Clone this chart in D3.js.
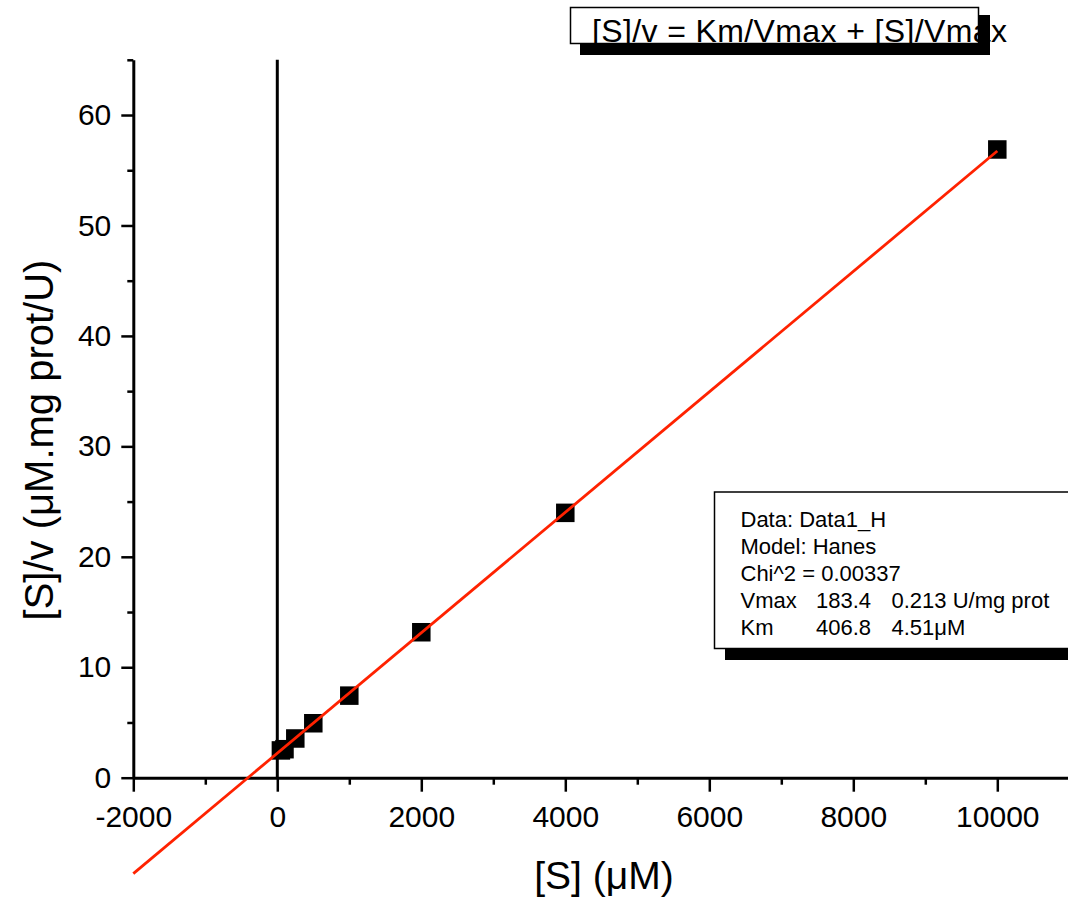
<!DOCTYPE html>
<html>
<head>
<meta charset="utf-8">
<script src="https://cdn.jsdelivr.net/npm/d3@7"></script>
<style>
  html, body { margin: 0; padding: 0; background: #fff; }
  svg { display: block; font-family: "Liberation Sans", Arial, Helvetica, sans-serif; }
</style>
</head>
<body>
<svg id="chart" width="1068" height="901"></svg>
<script>
// Hanes-Woolf plot: [S]/v against [S]
const substrate = [50, 100, 250, 500, 1000, 2000, 4000, 10000];      // [S] (µM)
const sOverV    = [2.47, 2.58, 3.55, 4.93, 7.43, 13.17, 23.98, 56.88]; // [S]/v

// Fitted parameters (Hanes model)
const Vmax = 183.4;
const Km = 406.8;
const fitRange = [-2000, 10000];

const xMajor = [-2000, 0, 2000, 4000, 6000, 8000, 10000];
const xMinor = [-1000, 1000, 3000, 5000, 7000, 9000, 11000];
const yMajor = [0, 10, 20, 30, 40, 50, 60];
const yMinor = [5, 15, 25, 35, 45, 55, 65];

const statRows = [
  ["Data: Data1_H"],
  ["Model: Hanes"],
  ["Chi^2 = 0.00337"],
  ["Vmax", "183.4", "0.213 U/mg prot"],
  ["Km", "406.8", "4.51\u03bcM"]
];

const svg = d3.select("#chart");

const x = d3.scaleLinear().domain([-2000, 11000]).range([133.3, 1069.3]);
const y = d3.scaleLinear().domain([0, 65]).range([777.7, 59.8]);

const black = "#000";
const fitColor = "#ff2200";

// ---- axes ----
function styleAxis(g, width) {
  g.selectAll("path.domain").attr("stroke", black).attr("stroke-width", 3);
  g.selectAll(".tick line").attr("stroke", black).attr("stroke-width", width);
}

// minor ticks
const xMinorAxis = svg.append("g")
  .attr("transform", `translate(0,${y(0)})`)
  .call(d3.axisBottom(x).tickValues(xMinor).tickSize(7).tickSizeOuter(0).tickFormat(""));
xMinorAxis.select("path.domain").remove();
styleAxis(xMinorAxis, 2.5);

const yMinorAxis = svg.append("g")
  .attr("transform", `translate(${x(-2000)},0)`)
  .call(d3.axisLeft(y).tickValues(yMinor).tickSize(6).tickSizeOuter(0).tickFormat(""));
yMinorAxis.select("path.domain").remove();
styleAxis(yMinorAxis, 2.5);

// major ticks with labels
const xAxis = svg.append("g")
  .attr("transform", `translate(0,${y(0)})`)
  .call(d3.axisBottom(x).tickValues(xMajor).tickSize(14).tickSizeOuter(0)
        .tickPadding(14).tickFormat(d => String(d)));
styleAxis(xAxis, 2.5);
xAxis.selectAll(".tick text")
  .attr("fill", black).attr("font-size", 30)
  .attr("font-family", "Liberation Sans, Arial, sans-serif");

const yAxis = svg.append("g")
  .attr("transform", `translate(${x(-2000)},0)`)
  .call(d3.axisLeft(y).tickValues(yMajor).tickSize(12).tickSizeOuter(0)
        .tickPadding(10).tickFormat(d => String(d)));
styleAxis(yAxis, 2.5);
yAxis.selectAll(".tick text")
  .attr("fill", black).attr("font-size", 30)
  .attr("font-family", "Liberation Sans, Arial, sans-serif");

// vertical reference line at [S] = 0
svg.append("line")
  .attr("x1", x(0)).attr("x2", x(0))
  .attr("y1", y(0)).attr("y2", y(65))
  .attr("stroke", black).attr("stroke-width", 3);

// ---- data points ----
const pts = substrate.map((s, i) => ({ s, r: sOverV[i] }));
const size = 18.5;
svg.append("g").selectAll("rect")
  .data(pts)
  .join("rect")
  .attr("x", d => x(d.s) - size / 2)
  .attr("y", d => y(d.r) - size / 2)
  .attr("width", size).attr("height", size)
  .attr("fill", black);

// ---- fitted line: [S]/v = Km/Vmax + [S]/Vmax ----
const fit = fitRange.map(s => ({ s, r: Km / Vmax + s / Vmax }));
svg.append("path")
  .datum(fit)
  .attr("fill", "none")
  .attr("stroke", fitColor)
  .attr("stroke-width", 2.8)
  .attr("d", d3.line().x(d => x(d.s)).y(d => y(d.r)));

// ---- axis titles ----
svg.append("text")
  .attr("x", 604).attr("y", 889)
  .attr("text-anchor", "middle")
  .attr("font-size", 39)
  .text("[S] (\u03bcM)");

svg.append("text")
  .attr("transform", "translate(53,440) rotate(-90)")
  .attr("text-anchor", "middle")
  .attr("font-size", 40)
  .text("[S]/v (\u03bcM.mg prot/U)");

// ---- equation box ----
svg.append("rect")
  .attr("x", 580).attr("y", 15).attr("width", 410).attr("height", 40)
  .attr("fill", black);
svg.append("rect")
  .attr("x", 570.5).attr("y", 7.5).attr("width", 408).attr("height", 36)
  .attr("fill", "#fff").attr("stroke", black).attr("stroke-width", 1.5);
svg.append("text")
  .attr("x", 592).attr("y", 41.5)
  .attr("font-size", 32)
  .attr("textLength", 415).attr("lengthAdjust", "spacing")
  .text("[S]/v = Km/Vmax + [S]/Vmax");

// ---- fit statistics box ----
svg.append("rect")
  .attr("x", 725).attr("y", 503.5).attr("width", 400).attr("height", 156.5)
  .attr("fill", black);
svg.append("rect")
  .attr("x", 714.5).attr("y", 492).attr("width", 400).attr("height", 156.5)
  .attr("fill", "#fff").attr("stroke", black).attr("stroke-width", 1.5);

const colX = [740.5, 816, 891.5];
const stats = svg.append("g").attr("font-size", 22).attr("fill", black);
statRows.forEach((row, i) => {
  row.forEach((cell, j) => {
    stats.append("text")
      .attr("x", colX[j])
      .attr("y", 526.7 + i * 27.1)
      .text(cell);
  });
});
</script>
</body>
</html>
